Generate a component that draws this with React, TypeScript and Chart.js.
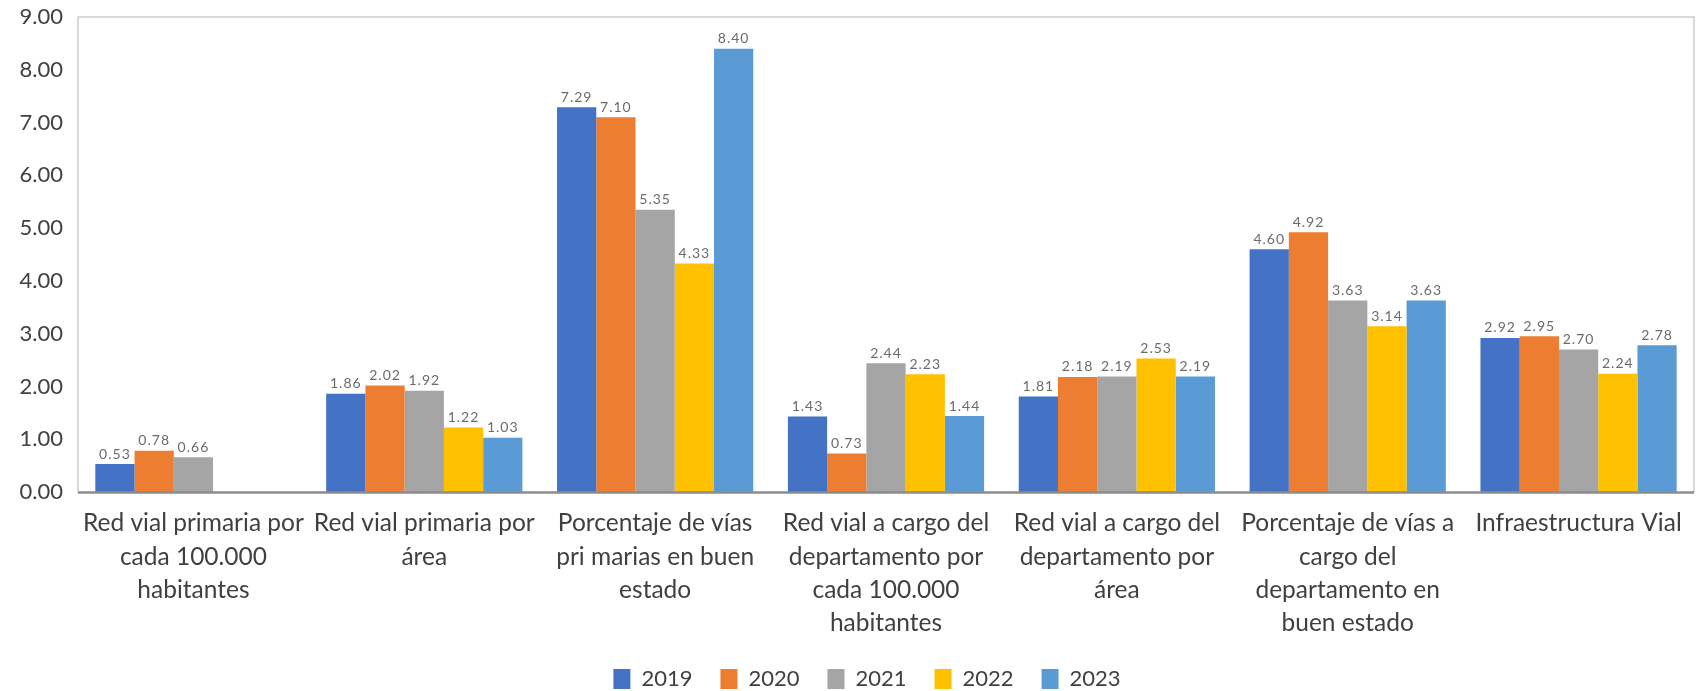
import React, { useEffect, useRef } from "react";
import { Chart, registerables } from "chart.js";

Chart.register(...registerables);

const categories: string[][] = [
  ["Red vial primaria por", "cada 100.000", "habitantes"],
  ["Red vial primaria por", "área"],
  ["Porcentaje de vías", "pri marias en buen", "estado"],
  ["Red vial a cargo del", "departamento por", "cada 100.000", "habitantes"],
  ["Red vial a cargo del", "departamento por", "área"],
  ["Porcentaje de vías a", "cargo del", "departamento en", "buen estado"],
  ["Infraestructura Vial"],
];

const seriesNames = ["2019", "2020", "2021", "2022", "2023"];
const values2019 = [0.53, 1.86, 7.29, 1.43, 1.81, 4.6, 2.92];
const values2020 = [0.78, 2.02, 7.1, 0.73, 2.18, 4.92, 2.95];
const values2021 = [0.66, 1.92, 5.35, 2.44, 2.19, 3.63, 2.7];
const values2022 = [null, 1.22, 4.33, 2.23, 2.53, 3.14, 2.24];
const values2023 = [null, 1.03, 8.4, 1.44, 2.19, 3.63, 2.78];
const seriesColors = ["#4472C4", "#ED7D31", "#A5A5A5", "#FFC000", "#5B9BD5"];
const yTicksMin = 0;
const yTicksMax = 9;
const yTickStep = 1;

const FONT = "Lato, 'Open Sans', sans-serif";
const PAD_TOP = 17;
const PAD_BOTTOM = -9;
const AREA_LEFT = 78;
const AREA_BOTTOM = 492;
const H = 691;
const LEGEND_SHIFT = 20;

const framePlugin = {
  id: "frame",
  afterLayout(chart: any) {
    if (chart.legend) {
      chart.legend.left += LEGEND_SHIFT;
      chart.legend.right += LEGEND_SHIFT;
    }
  },
  beforeDatasetsDraw(chart: any) {
    const { ctx, chartArea } = chart;
    const { left, right, top, bottom } = chartArea;
    ctx.save();
    ctx.strokeStyle = "#d9d9d9";
    ctx.lineWidth = 2;
    ctx.beginPath();
    ctx.moveTo(left, bottom);
    ctx.lineTo(left, top);
    ctx.lineTo(right, top);
    ctx.lineTo(right, bottom);
    ctx.stroke();
    ctx.restore();
  },
  afterDatasetsDraw(chart: any) {
    const { ctx, chartArea } = chart;
    ctx.save();
    ctx.strokeStyle = "#8c8c8c";
    ctx.lineWidth = 2.5;
    ctx.beginPath();
    ctx.moveTo(chartArea.left, chartArea.bottom + 0.5);
    ctx.lineTo(chartArea.right, chartArea.bottom + 0.5);
    ctx.stroke();
    ctx.restore();
  },
};

const dataLabelPlugin = {
  id: "dataLabels",
  afterDatasetsDraw(chart: any) {
    const { ctx } = chart;
    ctx.save();
    ctx.font = `14px ${FONT}`;
    try {
      (ctx as any).letterSpacing = "1px";
    } catch (e) {}
    ctx.fillStyle = "#6b6b6b";
    ctx.textAlign = "center";
    ctx.textBaseline = "bottom";
    chart.data.datasets.forEach((ds: any, i: number) => {
      const meta = chart.getDatasetMeta(i);
      meta.data.forEach((bar: any, j: number) => {
        const v = ds.data[j];
        if (v === null || v === undefined) return;
        ctx.fillText(Number(v).toFixed(2), bar.x, bar.y - 3);
      });
    });
    ctx.restore();
  },
};

export default function App() {
  const canvasRef = useRef<HTMLCanvasElement | null>(null);

  useEffect(() => {
    const canvas = canvasRef.current;
    if (!canvas) return;
    const allSeries = [values2019, values2020, values2021, values2022, values2023];
    const chart = new Chart(canvas, {
      type: "bar",
      data: {
        labels: categories,
        datasets: seriesNames.map((name, i) => ({
          label: name,
          data: allSeries[i],
          backgroundColor: seriesColors[i],
          borderWidth: 0,
          barPercentage: 1,
          categoryPercentage: 0.85,
        })),
      },
      options: {
        animation: false,
        responsive: false,
        devicePixelRatio: 1,
        layout: { padding: { left: 0, top: PAD_TOP, right: 7, bottom: PAD_BOTTOM } },
        plugins: {
          legend: {
            position: "bottom",
            labels: {
              boxWidth: 17,
              boxHeight: 20,
              padding: 28,
              color: "#404040",
              font: { family: FONT, size: 22 },
            },
          },
          tooltip: { enabled: false },
        },
        scales: {
          x: {
            grid: { display: false, drawTicks: false },
            border: { display: false },
            ticks: {
              color: "#404040",
              font: { family: FONT, size: 24.5, lineHeight: 1.35 },
              padding: 15,
              maxRotation: 0,
              autoSkip: false,
            },
            afterFit(scale: any) {
              const lh = scale.chart.legend ? scale.chart.legend.height : 0;
              scale.height = H - PAD_BOTTOM - AREA_BOTTOM - lh;
              scale.paddingTop = 0;
              scale.paddingBottom = 0;
            },
          },
          y: {
            min: yTicksMin,
            max: yTicksMax,
            grid: { display: false, drawTicks: false },
            border: { display: false },
            ticks: {
              stepSize: yTickStep,
              color: "#404040",
              font: { family: FONT, size: 22 },
              padding: 15,
              callback: (v: any) => Number(v).toFixed(2),
            },
            afterFit(scale: any) {
              scale.width = AREA_LEFT;
              scale.paddingTop = 0;
              scale.paddingBottom = 0;
            },
          },
        },
      },
      plugins: [framePlugin, dataLabelPlugin],
    } as any);
    return () => chart.destroy();
  }, []);

  return (
    <div style={{ position: "fixed", left: 0, top: 0, width: 1701, height: 691, background: "#fff" }}>
      <canvas ref={canvasRef} width={1701} height={691} style={{ width: 1701, height: 691, display: "block" }} />
    </div>
  );
}
